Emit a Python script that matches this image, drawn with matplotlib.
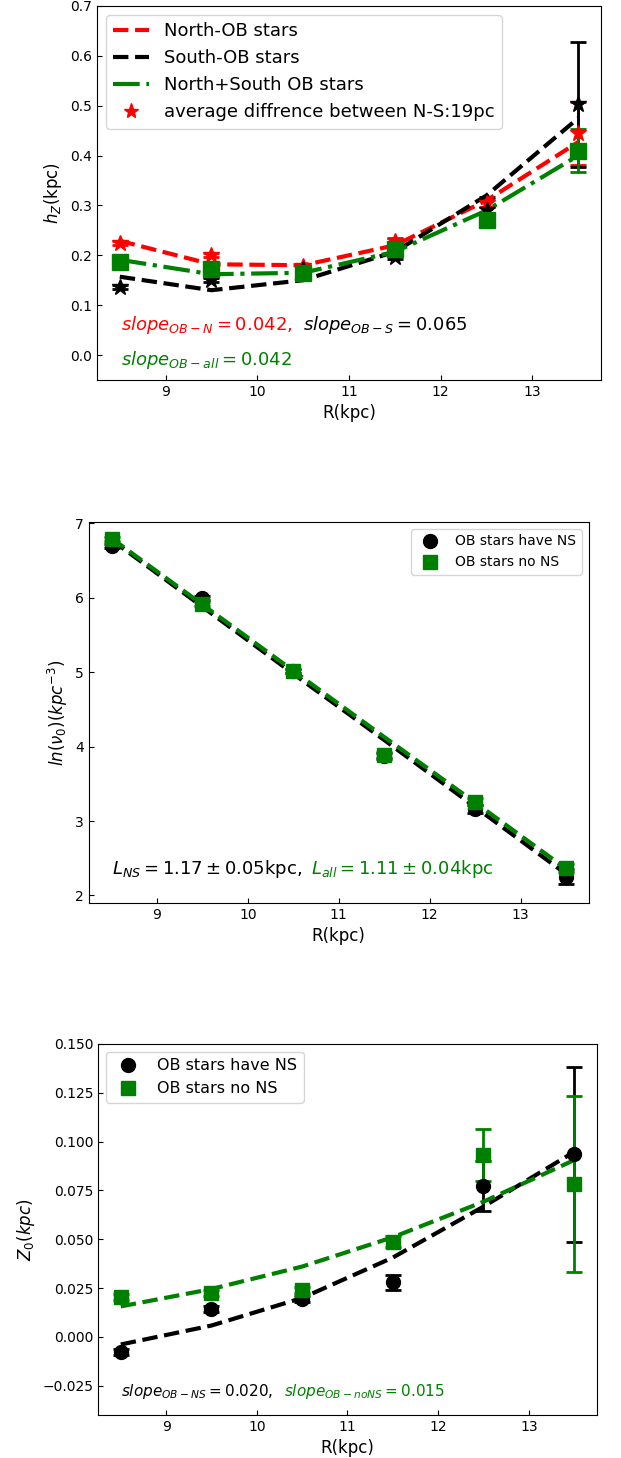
import matplotlib.pyplot as plt
import numpy as np

# data
R = [8.5, 9.5, 10.5, 11.5, 12.5, 13.5]

# panel 1: scale height h_z (kpc)
hz_north = [0.225, 0.200, 0.178, 0.229, 0.305, 0.445]
hz_north_err = [0.004, 0.004, 0.004, 0.005, 0.008, 0.063]
hz_north_fit = [0.229, 0.182, 0.180, 0.220, 0.310, 0.427]
hz_south = [0.137, 0.151, 0.173, 0.197, 0.291, 0.503]
hz_south_err = [0.004, 0.004, 0.004, 0.005, 0.025, 0.125]
hz_south_fit = [0.157, 0.130, 0.150, 0.207, 0.320, 0.475]
hz_all = [0.186, 0.173, 0.165, 0.213, 0.270, 0.410]
hz_all_err = [0.004, 0.004, 0.004, 0.005, 0.008, 0.043]
hz_all_fit = [0.191, 0.162, 0.165, 0.207, 0.290, 0.400]

# panel 2: ln(nu_0)
ln_ns = [6.70, 6.00, 5.02, 3.87, 3.16, 2.25]
ln_ns_err = [0.03, 0.03, 0.03, 0.04, 0.05, 0.10]
ln_ns_fit = [6.78, 5.88, 4.98, 4.09, 3.19, 2.29]
ln_nons = [6.79, 5.92, 5.02, 3.89, 3.26, 2.37]
ln_nons_err = [0.03, 0.03, 0.03, 0.04, 0.05, 0.06]
ln_nons_fit = [6.80, 5.91, 5.02, 4.13, 3.25, 2.36]

# panel 3: Z_0 (kpc)
z0_ns = [-0.0078, 0.0143, 0.0194, 0.0279, 0.0772, 0.0934]
z0_ns_err = [0.0015, 0.0015, 0.0015, 0.0038, 0.013, 0.045]
z0_ns_fit = [-0.0039, 0.0058, 0.0199, 0.0406, 0.0667, 0.0947]
z0_nons = [0.0202, 0.0224, 0.0238, 0.0488, 0.0930, 0.0782]
z0_nons_err = [0.0015, 0.0015, 0.0015, 0.003, 0.0134, 0.045]
z0_nons_fit = [0.0156, 0.0245, 0.0360, 0.0510, 0.0692, 0.0905]

fig = plt.figure(figsize=(6.21, 14.58), dpi=100)

# ---- panel 1
ax1 = fig.add_axes([0.156, 0.7394, 0.812, 0.2565])
ax1.errorbar(R, hz_north, yerr=hz_north_err, fmt='*', color='red', ms=12, capsize=6, elinewidth=2, capthick=2)
ax1.errorbar(R, hz_south, yerr=hz_south_err, fmt='*', color='black', ms=12, capsize=6, elinewidth=2, capthick=2)
ax1.errorbar(R, hz_all, yerr=hz_all_err, fmt='s', color='green', ms=12, capsize=6, elinewidth=2, capthick=2)
l1, = ax1.plot(R, hz_north_fit, '--', color='red', lw=3, label='North-OB stars')
l2, = ax1.plot(R, hz_south_fit, '--', color='black', lw=3, label='South-OB stars')
l3, = ax1.plot(R, hz_all_fit, '-.', color='green', lw=3, label='North+South OB stars')
l4, = ax1.plot([], [], '*', color='red', ms=11, label='average diffrence between N-S:19pc')
ax1.legend(handles=[l1, l2, l3, l4], loc='upper left', fontsize=13)
ax1.text(8.51, 0.05, r'$slope_{OB-N}=0.042,$', color='red', fontsize=13)
ax1.text(10.5, 0.05, r'$slope_{OB-S}=0.065$', color='black', fontsize=13)
ax1.text(8.51, -0.02, r'$slope_{OB-all}=0.042$', color='green', fontsize=13)
ax1.set_xlim(8.25, 13.75)
ax1.set_ylim(-0.05, 0.7)
ax1.set_xlabel('R(kpc)', fontsize=12)
ax1.set_ylabel('$h_Z$(kpc)', fontsize=12)
ax1.tick_params(direction='in', labelsize=10)

# ---- panel 2
ax2 = fig.add_axes([0.143, 0.3807, 0.805, 0.2613])
ax2.errorbar(R, ln_ns, yerr=ln_ns_err, fmt='o', color='black', ms=10, capsize=6, elinewidth=2, capthick=2)
ax2.errorbar(R, ln_nons, yerr=ln_nons_err, fmt='s', color='green', ms=10, capsize=6, elinewidth=2, capthick=2)
ax2.plot(R, ln_ns_fit, '--', color='black', lw=3)
ax2.plot(R, ln_nons_fit, '--', color='green', lw=3)
ax2.legend([plt.Line2D([], [], marker='o', ls='', color='black', ms=10),
            plt.Line2D([], [], marker='s', ls='', color='green', ms=10)],
           ['OB stars have NS', 'OB stars no NS'], loc='upper right', fontsize=10)
ax2.text(8.5, 2.29, r'$L_{NS}=1.17\pm0.05$kpc,', color='black', fontsize=13)
ax2.text(10.7, 2.29, r'$L_{all}=1.11\pm0.04$kpc', color='green', fontsize=13)
ax2.set_xlim(8.25, 13.75)
ax2.set_ylim(1.9, 7.02)
ax2.set_xlabel('R(kpc)', fontsize=12)
ax2.set_ylabel(r'$ln(\nu_0)(kpc^{-3})$', fontsize=12)
ax2.tick_params(direction='in', labelsize=10)

# ---- panel 3
ax3 = fig.add_axes([0.158, 0.0295, 0.803, 0.2545])
ax3.errorbar(R, z0_ns, yerr=z0_ns_err, fmt='o', color='black', ms=10, capsize=6, elinewidth=2, capthick=2)
ax3.errorbar(R, z0_nons, yerr=z0_nons_err, fmt='s', color='green', ms=10, capsize=6, elinewidth=2, capthick=2)
ax3.plot(R, z0_ns_fit, '--', color='black', lw=3)
ax3.plot(R, z0_nons_fit, '--', color='green', lw=3)
ax3.legend([plt.Line2D([], [], marker='o', ls='', color='black', ms=10),
            plt.Line2D([], [], marker='s', ls='', color='green', ms=10)],
           ['OB stars have NS', 'OB stars no NS'], loc='upper left', fontsize=11.5)
ax3.text(8.5, -0.0305, r'$slope_{OB-NS}=0.020$,', color='black', fontsize=11)
ax3.text(10.3, -0.0305, r'$slope_{OB-noNS}=0.015$', color='green', fontsize=11)
ax3.set_xlim(8.25, 13.75)
ax3.set_ylim(-0.04, 0.15)
ax3.set_xlabel('R(kpc)', fontsize=12)
ax3.set_ylabel('$Z_0(kpc)$', fontsize=12)
ax3.tick_params(direction='in', labelsize=10)

fig.savefig('out.png', dpi=100)
